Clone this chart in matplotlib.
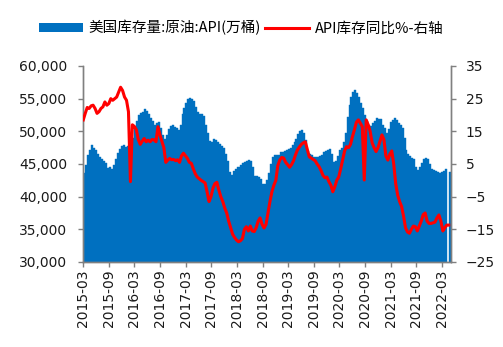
import numpy as np
import pandas as pd
import matplotlib
matplotlib.use("Agg")
import matplotlib.pyplot as plt
import matplotlib.dates as mdates
from matplotlib.patches import Patch
from matplotlib.lines import Line2D
from matplotlib.ticker import FuncFormatter, MultipleLocator

plt.rcParams['font.family'] = ['DejaVu Sans', 'Noto Sans CJK SC']

# API crude stocks (thousand x 10k bbl), biweekly readings
stock_k = [
    43.6, 44.8, 46.3, 47.2, 47.9, 47.5, 47.1, 46.6, 46.1, 45.8,
    45.4, 45.1, 44.4, 44.6, 44.3, 44.9, 45.8, 46.7, 47.3, 47.7,
    47.9, 47.6, 47.8, 47.2, 47.0, 49.0, 50.5, 51.6, 52.5, 52.8,
    52.9, 53.4, 53.1, 52.6, 52.0, 51.6, 51.0, 51.3, 51.5, 50.5,
    49.5, 48.9, 49.4, 50.3, 50.8, 51.0, 50.7, 50.5, 50.2, 51.0,
    52.6, 53.6, 54.4, 54.9, 55.1, 54.9, 54.6, 53.7, 52.9, 52.7,
    52.6, 52.4, 51.0, 49.8, 48.5, 48.3, 48.9, 48.7, 48.3, 48.0,
    47.8, 47.4, 46.5, 45.4, 43.8, 43.3, 44.0, 44.3, 44.5, 44.6,
    44.9, 45.1, 45.3, 45.5, 45.6, 45.4, 44.6, 43.2, 43.1, 43.0,
    42.7, 42.0, 41.9, 42.6, 43.6, 45.0, 46.0, 46.4, 46.3, 46.4,
    46.8, 46.9, 47.0, 47.1, 47.3, 47.5, 47.9, 48.4, 48.8, 49.6,
    50.1, 50.2, 49.8, 48.6, 47.0, 46.5, 46.3, 46.1, 46.0, 46.1,
    46.2, 46.4, 46.8, 47.0, 47.2, 47.3, 46.6, 45.3, 45.5, 46.2,
    47.2, 47.5, 48.3, 49.8, 52.2, 54.0, 55.2, 56.0, 56.4, 55.8,
    55.3, 54.3, 53.5, 52.5, 51.6, 51.0, 50.8, 51.2, 51.6, 52.0,
    51.9, 51.9, 51.0, 50.5, 49.8, 50.4, 51.4, 51.8, 52.0, 51.7,
    51.2, 50.9, 50.5, 49.0, 47.1, 46.6, 46.2, 45.9, 45.7, 44.5,
    44.1, 44.6, 45.2, 45.7, 45.9, 45.7, 45.0, 44.3, 44.1, 43.9,
    43.7, 43.6, 43.7, 44.0, 44.3, np.nan, 43.8,
]

# year-on-year change, %
yoy = [
    18.5, 20.5, 22.3, 22.0, 22.8, 23.0, 22.0, 20.5, 21.0, 22.0,
    22.5, 24.0, 23.0, 23.5, 25.0, 24.5, 25.0, 25.5, 27.0, 28.5,
    27.5, 25.5, 24.5, 21.0, -0.4, 17.0, 16.5, 15.5, 12.5, 11.0,
    12.0, 12.8, 11.8, 12.3, 11.8, 12.5, 12.4, 11.8, 16.4, 13.9,
    12.0, 10.0, 5.5, 6.2, 6.7, 6.3, 6.4, 6.0, 6.3, 5.5,
    7.5, 8.3, 7.5, 6.7, 5.5, 5.2, 3.5, 2.0, 1.0, 0.5,
    0.0, -0.4, -0.8, -3.5, -6.5, -5.0, -2.4, -1.0, -0.6, -3.0,
    -5.0, -6.5, -8.5, -10.0, -12.5, -14.5, -16.5, -17.5, -18.3, -18.8,
    -18.5, -17.8, -15.0, -14.2, -15.5, -14.0, -15.5, -15.7, -14.5, -12.5,
    -11.5, -13.5, -14.6, -13.5, -10.0, -6.5, -3.5, -1.5, 0.0, 4.5,
    6.2, 7.0, 6.8, 5.5, 4.8, 4.0, 4.8, 6.0, 7.8, 9.3,
    10.2, 11.0, 11.5, 11.8, 9.5, 7.2, 6.8, 6.4, 6.0, 5.0,
    4.2, 3.0, 1.5, 0.8, 1.0, -0.4, -1.5, -3.5, -2.0, 0.0,
    1.0, 3.5, 6.2, 9.0, 10.3, 10.0, 11.0, 13.4, 15.5, 17.8,
    18.5, 17.5, 16.4, 0.1, 18.5, 17.0, 15.0, 11.5, 10.0, 8.8,
    10.0, 12.0, 13.9, 12.5, 7.5, 6.2, 8.0, 9.0, 5.0, -1.0,
    -4.5, -6.5, -8.0, -11.0, -14.5, -15.8, -16.2, -15.0, -14.0, -14.2,
    -15.5, -14.0, -12.5, -10.5, -10.0, -12.5, -13.2, -13.2, -13.0, -12.8,
    -11.5, -10.6, -12.5, -15.5, -14.5, -13.7, -13.7,
]

dates = pd.date_range("2015-03-03", periods=len(stock_k), freq="14D")
stock = np.array(stock_k) * 1000

blue = "#0070C0"
red = "#FF0000"
grey = "#808080"

fig = plt.figure(figsize=(5.03, 3.47), dpi=100)
ax = fig.add_axes([0.165, 0.245, 0.7316, 0.5648])
ax2 = ax.twinx()

ax.bar(dates, stock, width=14, align="edge", color=blue,
       edgecolor=blue, linewidth=0.3, zorder=2)
ax2.plot(dates, yoy, color=red, lw=2.2, zorder=3, solid_joinstyle="round")

ax.set_xlim(pd.Timestamp("2015-03-01"), pd.Timestamp("2022-05-05"))
ax.set_ylim(30000, 60000)
ax2.set_ylim(-25, 35)
ax.yaxis.set_major_locator(MultipleLocator(5000))
ax.yaxis.set_major_formatter(FuncFormatter(lambda v, p: f"{int(v):,}"))
ax2.set_yticks(np.arange(-25, 36, 10))

ticks = pd.date_range("2015-03-01", "2022-03-01", freq="6MS")
ax.set_xticks(ticks)
ax.xaxis.set_major_formatter(mdates.DateFormatter("%Y-%m"))
plt.setp(ax.get_xticklabels(), rotation=90)

for a in (ax, ax2):
    a.spines["top"].set_visible(False)
    for s in ("left", "right", "bottom"):
        a.spines[s].set_color(grey)
        a.spines[s].set_linewidth(1.0)
    a.tick_params(colors=grey, labelcolor="#1a1a1a", labelsize=10,
                  length=3.5, width=1.0, direction="out")
    a.set_facecolor("none")
ax.tick_params(axis="x", pad=2)
ax.tick_params(axis="y", pad=8)
ax2.tick_params(axis="y", pad=7)
ax2.set_zorder(ax.get_zorder() + 1)

handles = [Patch(facecolor=blue, edgecolor="none"),
           Line2D([0], [0], color=red, lw=2.2)]
labels = ["美国库存量:原油:API(万桶)", "API库存同比%-右轴"]
fig.legend(handles, labels, loc="center", bbox_to_anchor=(0.48, 0.92),
           ncol=2, frameon=False, handlelength=3.0,
           handleheight=0.55, handletextpad=0.4, columnspacing=0.3,
           prop={"family": ["Noto Sans CJK SC", "DejaVu Sans"], "size": 10.5})

fig.savefig("out.png", dpi=100)
